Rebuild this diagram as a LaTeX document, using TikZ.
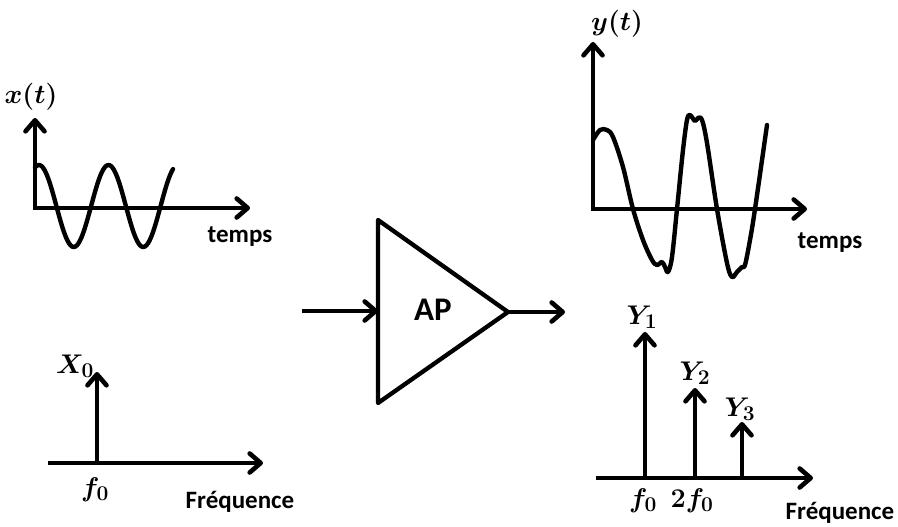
\documentclass[tikz,border=0pt]{standalone}
\usepackage{fix-cm}
\usepackage{fontspec}
\setmainfont{Carlito}
\DeclareMathSizes{27}{27}{21}{16}
\usetikzlibrary{arrows.meta}
\begin{document}
\begin{tikzpicture}[x=1pt,y=-1pt,
  ax/.style={line width=4.6pt, line cap=rect, -{Straight Barb[length=11pt,width=19pt,round]}},
  conn/.style={line width=4.6pt, -{Straight Barb[length=11pt,width=19pt,round]}},
  sig/.style={line width=4.4pt, line cap=round, line join=round},
  txt/.style={font=\fontsize{25}{29}\selectfont\bfseries, inner sep=0pt},
  mth/.style={font=\fontsize{27}{31}\selectfont\boldmath, inner sep=0pt}]
\useasboundingbox (0,0) rectangle (898,527);
% ---- top-left: x(t)
\coordinate (xo) at (35,208);
\coordinate (xtop) at (35,118);
\coordinate (xright) at (250,208);
\draw[sig] plot[domain=35:173, samples=90, smooth] (\x,{206-41*cos(5.18*(\x-39))});
\draw[ax] (xo) -- (xtop);
\draw[ax] (xo) -- (xright);
\node[mth] (xlab) at (31,97) {$x(t)$};
\node[txt] (tempsL) at (240,237) {temps};
% ---- bottom-left: spectrum of x
\coordinate (fl0) at (50,463);
\coordinate (fl1) at (263,463);
\coordinate (sx0) at (97,463);
\coordinate (sx1) at (97,372);
\draw[ax] (fl0) -- (fl1);
\draw[conn] (sx0) -- (sx1);
\node[mth] (X0) at (75,366) {$X_0$};
\node[mth] (f0L) at (95,490) {$f_0$};
\node[txt] (freqL) at (240,502) {Fréquence};
% ---- amplifier
\coordinate (tA) at (378,220);
\coordinate (tB) at (378,403);
\coordinate (tC) at (508,312);
\draw[line width=4.3pt, line join=round] (tA) -- (tC) -- (tB) -- cycle;
\node[txt, font=\fontsize{33}{37}\selectfont\bfseries] (ap) at (433,310) {AP};
\coordinate (inS) at (302,311);
\coordinate (inE) at (378,311);
\draw[conn] (inS) -- (inE);
\coordinate (outE) at (565,312);
\draw[conn] (tC) -- (outE);
% ---- top-right: y(t)
\coordinate (yo) at (593,209);
\coordinate (ytop) at (593,42);
\coordinate (yright) at (807,209);
\draw[sig] plot[smooth, tension=0.55] coordinates {(593,140) (600,130) (607,130) (613,137) (623,167) (633,209) (643,240) (652,260) (657,265) (662,262) (665,267) (668,272) (672,257) (677,209) (683,150) (687,120) (690,115) (695,121) (698,118) (702,120) (707,143) (717,209) (727,263) (732,277) (737,272) (742,267) (745,265) (750,240) (755,209) (767,125)};
\draw[ax] (yo) -- (ytop);
\draw[ax] (yo) -- (yright);
\node[mth] (ylab) at (617,24) {$y(t)$};
\node[txt] (tempsR) at (830,243) {temps};
% ---- bottom-right: spectrum of y
\coordinate (fr0) at (598,478);
\coordinate (fr1) at (813,478);
\draw[ax] (fr0) -- (fr1);
\coordinate (s1b) at (645,478); \coordinate (s1t) at (645,332);
\coordinate (s2b) at (695,478); \coordinate (s2t) at (695,388);
\coordinate (s3b) at (742,478); \coordinate (s3t) at (742,422);
\draw[conn] (s1b) -- (s1t);
\draw[conn] (s2b) -- (s2t);
\draw[conn] (s3b) -- (s3t);
\node[mth] (Y1) at (642,317) {$Y_1$};
\node[mth] (Y2) at (695,373) {$Y_2$};
\node[mth] (Y3) at (740,409) {$Y_3$};
\node[mth] (f0R) at (643,501) {$f_0$};
\node[mth] (f02R) at (692,501) {$2f_0$};
\node[txt] (freqR) at (840,513) {Fréquence};
\end{tikzpicture}
\end{document}
